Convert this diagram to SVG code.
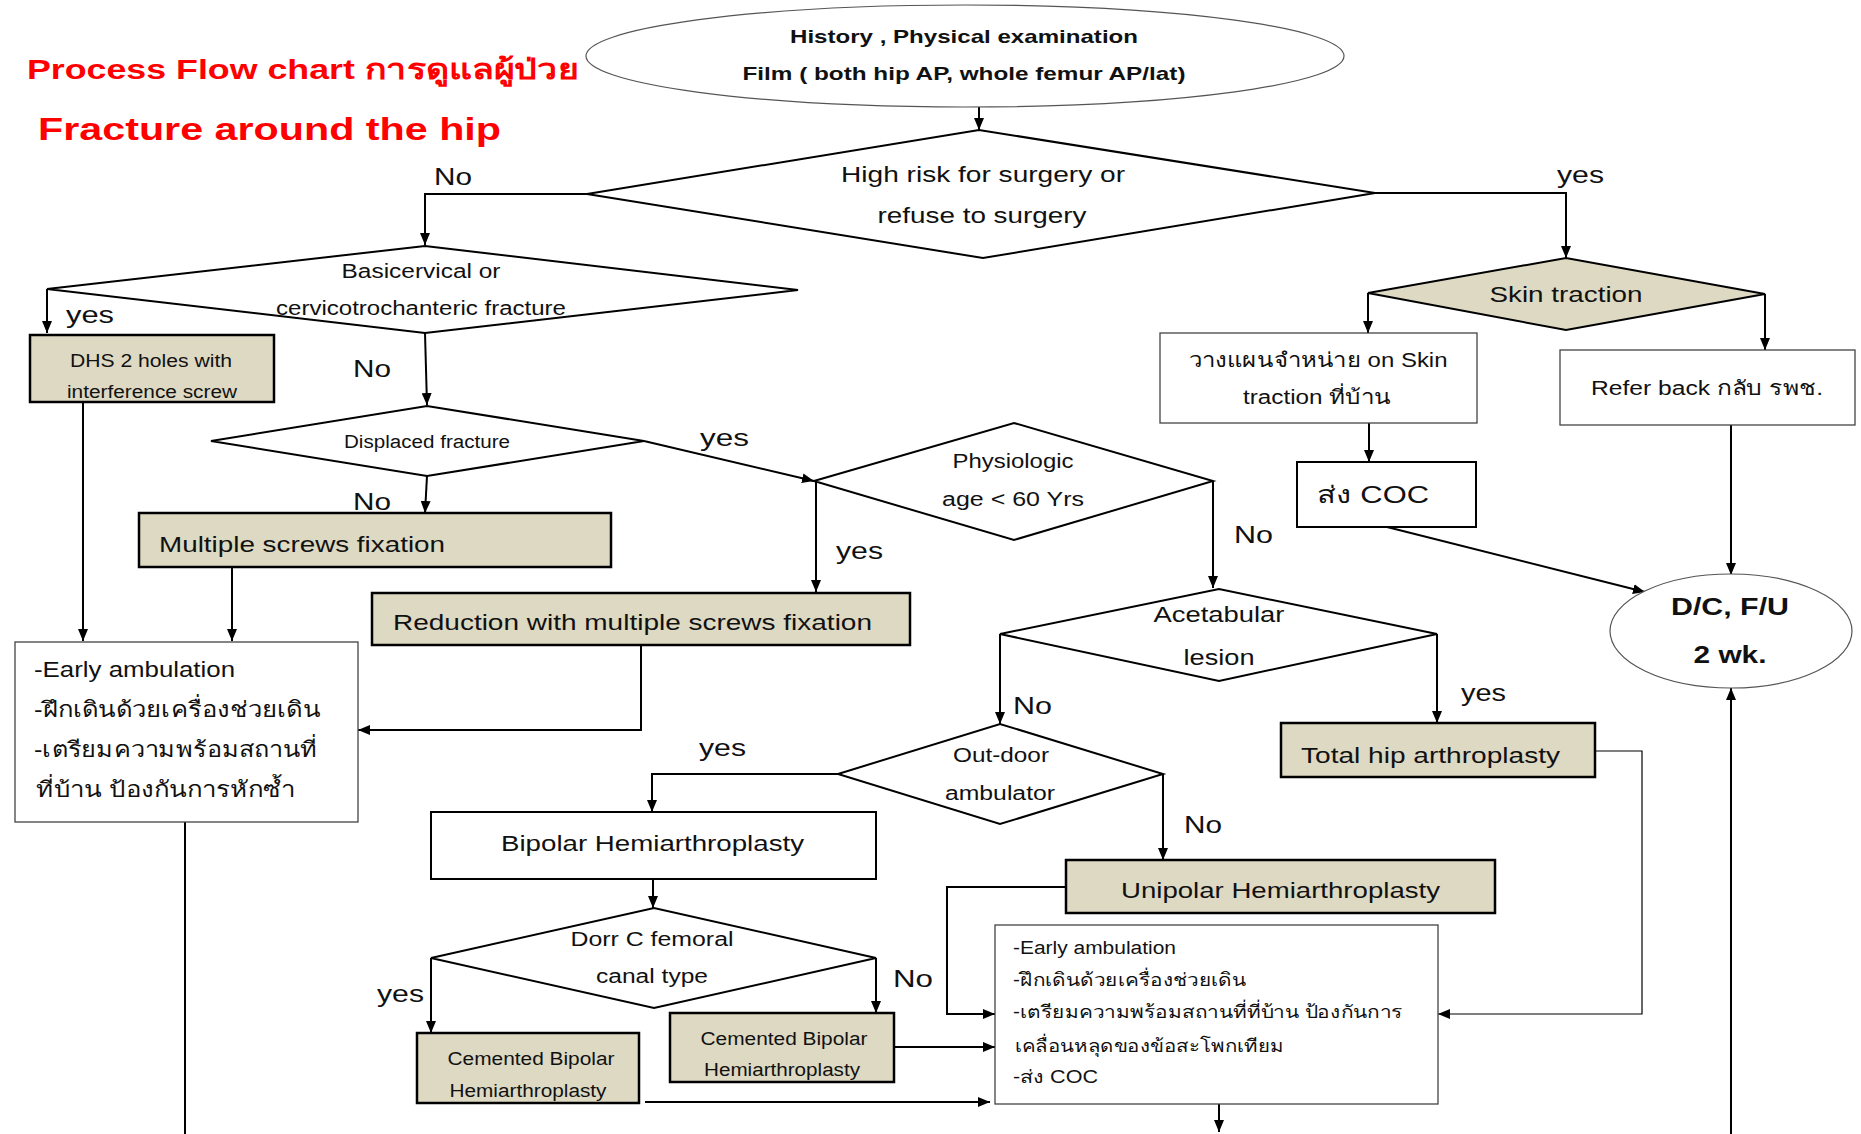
<svg xmlns="http://www.w3.org/2000/svg" width="1861" height="1134" viewBox="0 0 1861 1134">
<defs>
<marker id="ah" markerUnits="userSpaceOnUse" markerWidth="12" markerHeight="10" refX="12" refY="5" orient="auto">
<path d="M0,0 L12,5 L0,10 z" fill="#000"/>
</marker>
<style>
text{font-family:"Liberation Sans","DejaVu Sans","Noto Sans",sans-serif;fill:#111;}
.t1{font-size:28px;font-weight:bold;fill:#f00;}
.t2{font-size:32px;font-weight:bold;fill:#f00;}
.b19{font-size:19px;font-weight:bold;}
.b22{font-size:23px;font-weight:bold;}
.lab{font-size:24px;}
.m22{font-size:22px;}
.m20{font-size:20px;}
.m18{font-size:18px;}
.c{text-anchor:middle;}
.box{fill:#fff;stroke:#000;stroke-width:2;}
.beige{fill:#DDD9C3;stroke:#000;stroke-width:2.5;}
.thin{fill:#fff;stroke:#444;stroke-width:1.3;}
.ell{fill:#fff;stroke:#555;stroke-width:1.2;}
.dia{fill:#fff;stroke:#000;stroke-width:2;}
.cn path{fill:none;stroke:#000;stroke-width:2;}
.cn path.a{marker-end:url(#ah);}
.cn path.th{stroke-width:1.2;}
</style>
</defs>
<rect width="1861" height="1134" fill="#fff"/>

<g id="title">
<text class="t1" x="27" y="79" textLength="551" lengthAdjust="spacingAndGlyphs">Process Flow chart การดูแลผู้ป่วย</text>
<text class="t2" x="38" y="140" textLength="463" lengthAdjust="spacingAndGlyphs">Fracture around the hip</text>
</g>

<g class="cn" id="connectors">
<path class="a" d="M979,107 V130"/>
<path class="a" d="M587,194 H425 V245"/>
<path class="a" d="M1375,193 H1566 V258"/>
<path class="a" d="M47,289 V333"/>
<path class="a" d="M425,333 L427,405"/>
<path class="a" d="M83,402 V641"/>
<path class="a" d="M427,476 L425,513"/>
<path class="a" d="M644,441 L814,481"/>
<path class="a" d="M816,481 V592"/>
<path class="a" d="M232,567 V641"/>
<path class="a" d="M641,645 V730 H358"/>
<path class="a" d="M1213,481 V588"/>
<path class="a" d="M1000,634 V724"/>
<path class="a" d="M1437,634 V723"/>
<path class="a" d="M838,774 H652 V812"/>
<path class="a" d="M1163,774 V860"/>
<path class="a" d="M653,879 V908"/>
<path class="a" d="M431,958 V1033"/>
<path class="a" d="M876,958 V1013"/>
<path class="a" d="M894,1047 H995"/>
<path class="a" d="M645,1102 H990"/>
<path class="a" d="M1066,887 H947 V1014 H995"/>
<path class="a th" d="M1595,751 H1642 V1014 H1438"/>
<path class="a" d="M1219,1104 V1132"/>
<path class="a" d="M1368,293 V333"/>
<path class="a" d="M1765,294 V350"/>
<path class="a" d="M1369,423 V462"/>
<path class="a" d="M1387,527 L1645,592"/>
<path class="a" d="M1731,425 V575"/>
<path class="a" d="M1731,1134 V688"/>
<path d="M185,822 V1134"/>
</g>

<g id="labels">
<text class="lab" x="434" y="185" textLength="38" lengthAdjust="spacingAndGlyphs">No</text>
<text class="lab" x="1557" y="183" textLength="47" lengthAdjust="spacingAndGlyphs">yes</text>
<text class="lab" x="66" y="323" textLength="48" lengthAdjust="spacingAndGlyphs">yes</text>
<text class="lab" x="353" y="377" textLength="38" lengthAdjust="spacingAndGlyphs">No</text>
<text class="lab" x="700" y="446" textLength="49" lengthAdjust="spacingAndGlyphs">yes</text>
<text class="lab" x="353" y="510" textLength="38" lengthAdjust="spacingAndGlyphs">No</text>
<text class="lab" x="836" y="559" textLength="47" lengthAdjust="spacingAndGlyphs">yes</text>
<text class="lab" x="1234" y="543" textLength="39" lengthAdjust="spacingAndGlyphs">No</text>
<text class="lab" x="1013" y="714" textLength="39" lengthAdjust="spacingAndGlyphs">No</text>
<text class="lab" x="1461" y="701" textLength="45" lengthAdjust="spacingAndGlyphs">yes</text>
<text class="lab" x="699" y="756" textLength="47" lengthAdjust="spacingAndGlyphs">yes</text>
<text class="lab" x="1184" y="833" textLength="38" lengthAdjust="spacingAndGlyphs">No</text>
<text class="lab" x="377" y="1002" textLength="47" lengthAdjust="spacingAndGlyphs">yes</text>
<text class="lab" x="893" y="987" textLength="40" lengthAdjust="spacingAndGlyphs">No</text>
</g>

<g id="n-history">
<ellipse class="ell" cx="965" cy="56" rx="379" ry="51"/>
<text class="b19 c" x="964" y="43" textLength="348" lengthAdjust="spacingAndGlyphs">History , Physical examination</text>
<text class="b19 c" x="964" y="80" textLength="443" lengthAdjust="spacingAndGlyphs">Film ( both hip AP, whole femur AP/lat)</text>
</g>

<g id="n-highrisk">
<polygon class="dia" points="587,194 979,130 1375,193 983,258"/>
<text class="m22 c" x="983" y="182" textLength="284" lengthAdjust="spacingAndGlyphs">High risk for surgery or</text>
<text class="m22 c" x="982" y="223" textLength="209" lengthAdjust="spacingAndGlyphs">refuse to surgery</text>
</g>

<g id="n-basicervical">
<polygon class="dia" points="47,289 425,246 798,290 425,333"/>
<text class="m20 c" x="421" y="278" textLength="159" lengthAdjust="spacingAndGlyphs">Basicervical  or</text>
<text class="m20 c" x="421" y="315" textLength="290" lengthAdjust="spacingAndGlyphs">cervicotrochanteric  fracture</text>
</g>

<g id="n-dhs">
<rect class="beige" x="30" y="335" width="244" height="67"/>
<text class="m18 c" x="151" y="367" textLength="162" lengthAdjust="spacingAndGlyphs">DHS 2 holes with</text>
<text class="m18 c" x="152" y="398" textLength="170" lengthAdjust="spacingAndGlyphs">interference screw</text>
</g>

<g id="n-displaced">
<polygon class="dia" points="211,441 427,406 644,441 427,476"/>
<text class="m18 c" x="427" y="448" textLength="166" lengthAdjust="spacingAndGlyphs">Displaced fracture</text>
</g>

<g id="n-multiple">
<rect class="beige" x="139" y="513" width="472" height="54"/>
<text class="m22" x="159" y="552" textLength="286" lengthAdjust="spacingAndGlyphs">Multiple screws fixation</text>
</g>

<g id="n-physiologic">
<polygon class="dia" points="814,481 1014,423 1213,481 1014,540"/>
<text class="m20 c" x="1013" y="468" textLength="121" lengthAdjust="spacingAndGlyphs">Physiologic</text>
<text class="m20 c" x="1013" y="506" textLength="142" lengthAdjust="spacingAndGlyphs">age &lt; 60 Yrs</text>
</g>

<g id="n-reduction">
<rect class="beige" x="372" y="593" width="538" height="52"/>
<text class="m22" x="393" y="630" textLength="479" lengthAdjust="spacingAndGlyphs">Reduction with multiple screws fixation</text>
</g>

<g id="n-early-left">
<rect class="thin" x="15" y="642" width="343" height="180"/>
<text class="m22" x="34" y="677" textLength="201" lengthAdjust="spacingAndGlyphs">-Early ambulation</text>
<text class="m22" x="34" y="717" textLength="286" lengthAdjust="spacingAndGlyphs">-ฝึกเดินด้วยเครื่องช่วยเดิน</text>
<text class="m22" x="34" y="757" textLength="283" lengthAdjust="spacingAndGlyphs">-เตรียมความพร้อมสถานที่</text>
<text class="m22" x="36" y="797" textLength="259" lengthAdjust="spacingAndGlyphs">ที่บ้าน ป้องกันการหักซ้ำ</text>
</g>

<g id="n-acetabular">
<polygon class="dia" points="1000,634 1219,589 1437,634 1219,681"/>
<text class="m22 c" x="1219" y="622" textLength="131" lengthAdjust="spacingAndGlyphs">Acetabular</text>
<text class="m22 c" x="1219" y="665" textLength="71" lengthAdjust="spacingAndGlyphs">lesion</text>
</g>

<g id="n-outdoor">
<polygon class="dia" points="838,774 1000,724 1163,774 1000,824"/>
<text class="m20 c" x="1001" y="762" textLength="96" lengthAdjust="spacingAndGlyphs">Out-door</text>
<text class="m20 c" x="1000" y="800" textLength="110" lengthAdjust="spacingAndGlyphs">ambulator</text>
</g>

<g id="n-totalhip">
<rect class="beige" x="1281" y="723" width="314" height="54"/>
<text class="m22" x="1301" y="763" textLength="259" lengthAdjust="spacingAndGlyphs">Total hip arthroplasty</text>
</g>

<g id="n-bipolar">
<rect class="box" x="431" y="812" width="445" height="67"/>
<text class="m22" x="501" y="851" textLength="303" lengthAdjust="spacingAndGlyphs">Bipolar  Hemiarthroplasty</text>
</g>

<g id="n-dorr">
<polygon class="dia" points="431,958 654,908 876,958 654,1008"/>
<text class="m20 c" x="652" y="946" textLength="163" lengthAdjust="spacingAndGlyphs">Dorr C femoral</text>
<text class="m20 c" x="652" y="983" textLength="112" lengthAdjust="spacingAndGlyphs">canal type</text>
</g>

<g id="n-cemented-left">
<rect class="beige" x="417" y="1033" width="222" height="70"/>
<text class="m18 c" x="531" y="1065" textLength="167" lengthAdjust="spacingAndGlyphs">Cemented Bipolar</text>
<text class="m18 c" x="528" y="1097" textLength="157" lengthAdjust="spacingAndGlyphs">Hemiarthroplasty</text>
</g>

<g id="n-cemented-right">
<rect class="beige" x="670" y="1013" width="224" height="69"/>
<text class="m18 c" x="784" y="1045" textLength="167" lengthAdjust="spacingAndGlyphs">Cemented Bipolar</text>
<text class="m18 c" x="782" y="1076" textLength="156" lengthAdjust="spacingAndGlyphs">Hemiarthroplasty</text>
</g>

<g id="n-unipolar">
<rect class="beige" x="1066" y="860" width="429" height="53"/>
<text class="m22" x="1121" y="898" textLength="319" lengthAdjust="spacingAndGlyphs">Unipolar  Hemiarthroplasty</text>
</g>

<g id="n-early-right">
<rect class="thin" x="995" y="925" width="443" height="179"/>
<text class="m18" x="1013" y="954" textLength="163" lengthAdjust="spacingAndGlyphs">-Early ambulation</text>
<text class="m18" x="1013" y="986" textLength="233" lengthAdjust="spacingAndGlyphs">-ฝึกเดินด้วยเครื่องช่วยเดิน</text>
<text class="m18" x="1013" y="1018" textLength="390" lengthAdjust="spacingAndGlyphs">-เตรียมความพร้อมสถานที่ที่บ้าน ป้องกันการ</text>
<text class="m18" x="1015" y="1052" textLength="269" lengthAdjust="spacingAndGlyphs">เคลื่อนหลุดของข้อสะโพกเทียม</text>
<text class="m18" x="1013" y="1083" textLength="85" lengthAdjust="spacingAndGlyphs">-ส่ง COC</text>
</g>

<g id="n-skin">
<polygon class="beige" style="stroke-width:2" points="1368,293 1566,258 1765,294 1566,330"/>
<text class="m22 c" x="1566" y="302" textLength="153" lengthAdjust="spacingAndGlyphs">Skin traction</text>
</g>

<g id="n-plan">
<rect class="thin" x="1160" y="333" width="317" height="90"/>
<text class="m20 c" x="1318" y="367" textLength="259" lengthAdjust="spacingAndGlyphs">วางแผนจำหน่าย on Skin</text>
<text class="m20 c" x="1317" y="404" textLength="148" lengthAdjust="spacingAndGlyphs">traction ที่บ้าน</text>
</g>

<g id="n-coc">
<rect class="box" x="1297" y="462" width="179" height="65"/>
<text class="lab" x="1317" y="503" textLength="112" lengthAdjust="spacingAndGlyphs">ส่ง COC</text>
</g>

<g id="n-refer">
<rect class="thin" x="1560" y="350" width="295" height="75"/>
<text class="m20 c" x="1707" y="395" textLength="232" lengthAdjust="spacingAndGlyphs">Refer back กลับ รพช.</text>
</g>

<g id="n-dc">
<ellipse class="ell" cx="1731" cy="631" rx="121" ry="57"/>
<text class="b22 c" x="1730" y="615" textLength="118" lengthAdjust="spacingAndGlyphs">D/C, F/U</text>
<text class="b22 c" x="1730" y="663" textLength="73" lengthAdjust="spacingAndGlyphs">2 wk.</text>
</g>
</svg>
